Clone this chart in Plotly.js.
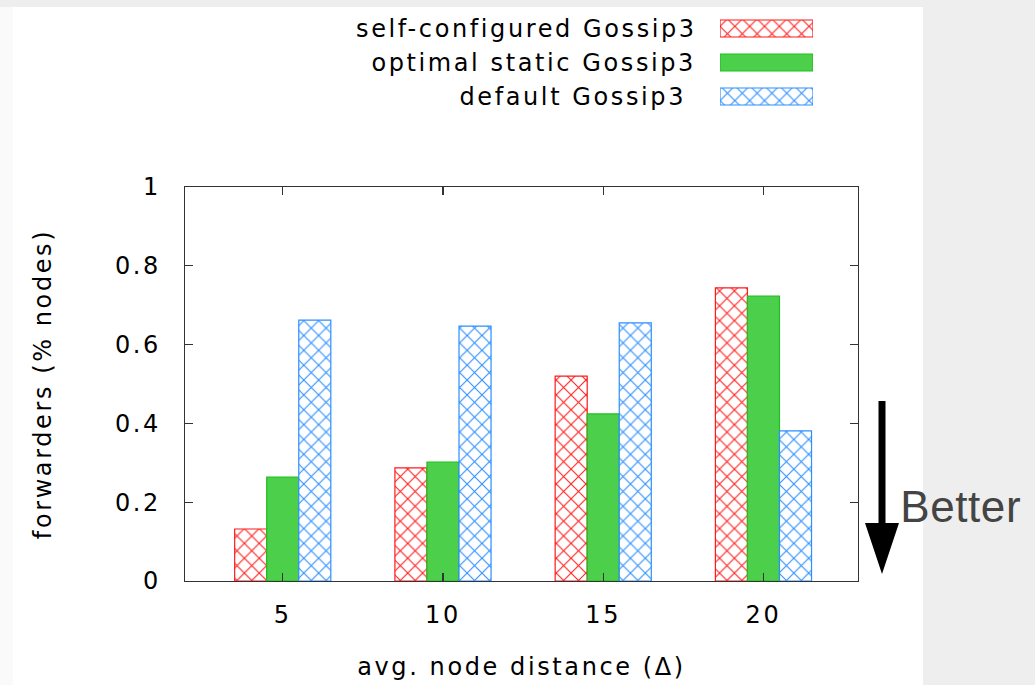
<!DOCTYPE html>
<html>
<head>
<meta charset="utf-8">
<script src="https://cdn.plot.ly/plotly-3.0.1.min.js"></script>
<style>
  html, body { margin: 0; padding: 0; background: #eeeeee; }
  #chart { width: 1035px; height: 685px; }
  /* gnuplot-style loose tracking for the chart text */
  #chart svg text { letter-spacing: 2.6px; }
  #chart .annotation[data-index="3"] text { letter-spacing: 0.6px; }
</style>
</head>
<body>
<div id="chart"></div>
<script>
// Forwarders (fraction of nodes) per average node distance
const distances = ['5', '10', '15', '20'];
const seriesNames = ['self-configured Gossip3', 'optimal static Gossip3', 'default Gossip3'];
const selfConfigured = [0.132, 0.287, 0.520, 0.744];
const optimalStatic = [0.264, 0.302, 0.424, 0.723];
const defaultGossip = [0.662, 0.647, 0.655, 0.381];
const yTicks = [0, 0.2, 0.4, 0.6, 0.8, 1];

// Per-series styling
const styles = [
  { fill: '#ffffff', fg: '#ff2020', line: '#ff1a1a', shape: 'x' },
  { fill: '#4cd04c', fg: '#4cd04c', line: '#1fbf1f', shape: '' },
  { fill: '#ffffff', fg: '#3090ff', line: '#2a90ff', shape: 'x' }
];
const seriesValues = [selfConfigured, optimalStatic, defaultGossip];

// Page geometry helpers (pixel -> paper coordinates)
const W = 1035, H = 685;
const M = { l: 185, r: 177, t: 10, b: 104 };
const PW = W - M.l - M.r, PH = H - M.t - M.b;
const px = x => (x - M.l) / PW;
const py = y => (H - M.b - y) / PH;

const FONT = 'DejaVu Sans, Verdana, sans-serif';

function markerFor(s) {
  const m = { color: s.fill, line: { color: s.line, width: 1.2 } };
  if (s.shape) {
    m.pattern = { shape: s.shape, fgcolor: s.fg, bgcolor: s.fill, size: 10.5, solidity: 0.2, fillmode: 'replace' };
  }
  return m;
}

const traces = seriesValues.map((vals, i) => ({
  type: 'bar',
  name: seriesNames[i],
  x: distances,
  y: vals,
  marker: markerFor(styles[i]),
  hoverinfo: 'x+y+name',
  showlegend: false
}));

// Key swatches: one horizontal bar per series on their own small axes
seriesNames.forEach((n, i) => {
  traces.push({
    type: 'bar',
    orientation: 'h',
    x: [1],
    y: [n],
    width: 0.5,
    offset: -0.25,
    xaxis: 'x2',
    yaxis: 'y2',
    hoverinfo: 'skip',
    showlegend: false,
    marker: markerFor(styles[i])
  });
});

const keyLabels = seriesNames.map(n => ({
  xref: 'paper', yref: 'y2', x: px(669), y: n,
  xanchor: 'right', yanchor: 'middle', showarrow: false,
  text: n, font: { family: FONT, size: 24, color: '#000' }
}));

const layout = {
  width: W, height: H,
  margin: M,
  paper_bgcolor: '#eeeeee',
  plot_bgcolor: '#ffffff',
  barmode: 'group',
  bargap: 0.4,
  bargroupgap: 0,
  showlegend: false,
  xaxis: {
    type: 'category',
    range: [-0.61, 3.59],
    domain: [0, 1],
    showline: true, linecolor: '#333', linewidth: 1.3, mirror: 'ticks',
    ticks: 'inside', ticklen: 8, tickcolor: '#333', tickwidth: 1.2,
    showgrid: false, zeroline: false,
    tickfont: { family: FONT, size: 24, color: '#000' },
    ticklabelstandoff: 12,
    title: { text: 'avg. node distance (Δ)', font: { family: FONT, size: 24, color: '#000' }, standoff: 30 }
  },
  yaxis: {
    range: [0, 1],
    domain: [0, py(187)],
    tickvals: yTicks,
    ticktext: yTicks.map(v => String(v)),
    showline: true, linecolor: '#333', linewidth: 1.3, mirror: 'ticks',
    ticks: 'inside', ticklen: 8, tickcolor: '#333', tickwidth: 1.2,
    showgrid: false, zeroline: false,
    tickfont: { family: FONT, size: 24, color: '#000' },
    ticklabelstandoff: 18,
    title: { text: 'forwarders (% nodes)', font: { family: FONT, size: 24, color: '#000' }, standoff: 64 }
  },
  xaxis2: {
    domain: [px(720), px(813)], range: [0, 1], anchor: 'y2',
    visible: false, fixedrange: true
  },
  yaxis2: {
    domain: [py(113.5), py(11.5)], type: 'category', range: [2.5, -0.5], anchor: 'x2',
    visible: false, fixedrange: true
  },
  shapes: [
    // white page panel
    { type: 'rect', xref: 'paper', yref: 'paper', layer: 'below',
      x0: px(13), x1: px(923), y0: py(H), y1: py(7),
      fillcolor: '#ffffff', line: { width: 0 } },
    { type: 'rect', xref: 'paper', yref: 'paper', layer: 'below',
      x0: px(0), x1: px(13), y0: py(H), y1: py(7),
      fillcolor: '#fafafa', line: { width: 0 } },
    // "lower is better" arrow
    { type: 'line', xref: 'paper', yref: 'paper',
      x0: px(882), x1: px(882), y0: py(401), y1: py(526),
      line: { color: '#000', width: 7 } },
    { type: 'path', xref: 'paper', yref: 'paper',
      path: `M ${px(865)} ${py(523)} L ${px(899)} ${py(523)} L ${px(882)} ${py(574)} Z`,
      fillcolor: '#000', line: { color: '#000', width: 0 } }
  ],
  annotations: keyLabels.concat([{
    xref: 'paper', yref: 'paper', x: px(900), y: py(506),
    xanchor: 'left', yanchor: 'middle', showarrow: false,
    text: 'Better', font: { family: 'Liberation Sans, Arial, sans-serif', size: 44, color: '#444444' }
  }])
};

Plotly.newPlot('chart', traces, layout, { displayModeBar: false, staticPlot: true });
</script>
</body>
</html>
